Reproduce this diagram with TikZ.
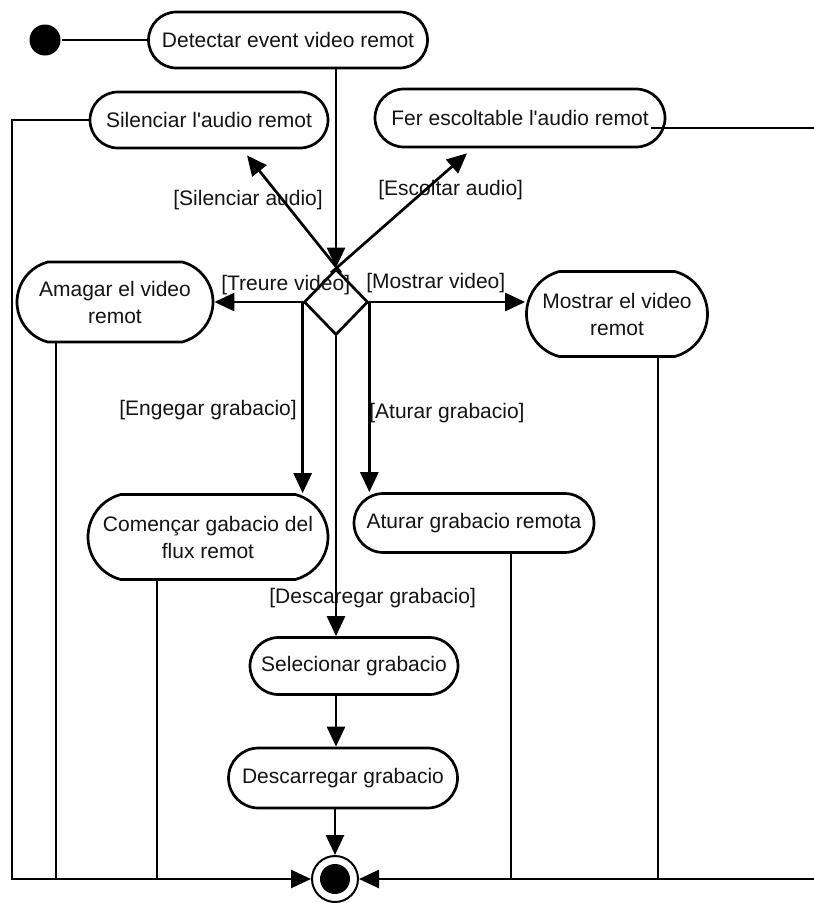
\documentclass[tikz,border=0pt]{standalone}
\usepackage{fontspec}
\setmainfont{Liberation Sans}
\usetikzlibrary{arrows.meta,shapes.geometric,shapes.misc,calc}

\begin{document}
\begin{tikzpicture}[x=1pt,y=-1pt,line width=2.7pt,
  act/.style={draw, rounded rectangle, rounded rectangle arc length=180,
    align=center, inner sep=0pt,
    font=\fontsize{21}{27}\selectfont, text=black!92},
  act2/.style={act, rounded rectangle arc length=150},
  guard/.style={inner sep=0pt, font=\fontsize{21}{25}\selectfont, text=black!92},
  flow/.style={-{Triangle[length=20pt,width=18pt]}},
  joinpt/.style={coordinate}
]
\useasboundingbox (0,0) rectangle (814,903);
\fill[white] (0,0) rectangle (814,903);

% initial node and actions
\node[circle, fill=black, minimum size=31pt, inner sep=0pt] (start) at (45,40) {};
\node[act, minimum width=279pt, minimum height=56pt] (det) at (288,40) {Detectar event video remot};
\node[act, minimum width=238pt, minimum height=56pt] (sil) at (209,120) {Silenciar l\textquotesingle audio remot};
\node[act, minimum width=290pt, minimum height=58pt] (fer) at (520,118) {Fer escoltable l\textquotesingle audio remot};
\node[diamond, draw, minimum width=64pt, minimum height=66pt, inner sep=0pt] (d) at (336,302) {};
\node[act2, minimum width=196pt, minimum height=80pt] (amag) at (115,302) {Amagar el video\\remot};
\node[act2, minimum width=181pt, minimum height=85pt] (most) at (617,314) {Mostrar el video\\remot};
\node[act2, minimum width=240pt, minimum height=85pt] (com) at (208,537) {Començar gabacio del\\flux remot};
\node[act, minimum width=240pt, minimum height=59pt] (atu) at (474,523) {Aturar grabacio remota};
\node[act, minimum width=208pt, minimum height=57pt] (sel) at (354,666) {Selecionar grabacio};
\node[act, minimum width=229pt, minimum height=60pt] (desc) at (343,778) {Descarregar grabacio};

% final node
\node[circle, draw, line width=2pt, minimum size=46pt, inner sep=0pt] (fin) at (335,879) {};
\fill (fin.center) circle (15pt);

% guard labels
\node[guard, anchor=west] (gsil) at (172,200) {[Silenciar audio]};
\node[guard, anchor=west] (gesc) at (377,190) {[Escoltar audio]};
\node[guard, anchor=west] (gtre) at (220,285) {[Treure video]};
\node[guard, anchor=west] (gmos) at (365,283) {[Mostrar video]};
\node[guard, anchor=west] (geng) at (118,410) {[Engegar grabacio]};
\node[guard, anchor=west] (gatu) at (368,413) {[Aturar grabacio]};
\node[guard, anchor=west] (gdes) at (268,598) {[Descaregar grabacio]};

% junction points on the bottom line
\node[joinpt] (bl) at (12,879) {};
\node[joinpt] (br) at (820,879) {};
\node[joinpt] (j1) at (56,879) {};
\node[joinpt] (j2) at (157,879) {};
\node[joinpt] (j3) at (511,879) {};
\node[joinpt] (j4) at (658,879) {};

% control flow
\draw (start) -- (det);
\draw[flow] (det.south -| d.north) -- (d.north);
\draw[flow] ($(d.north)!0.15!(d.east)$) -- ($(sil.south)+(38,6)$);
\draw[flow] ($(d.north)!0.15!(d.west)$) -- ($(fer.south)+(-53,5)$);
\draw[flow] (d.west) -- (amag.east |- d.west);
\draw[flow] (d.east) -- (most.west |- d.east);
\draw[flow] (d.west) -- (d.west |- com.north);
\draw[flow] (d.east) -- (d.east |- atu.north);
\draw[flow] (d.south) -- (d.south |- sel.north);
\draw[flow] (sel.south -| d.south) -- (desc.north -| d.south);
\draw[flow] (desc.south -| fin.north) -- (fin.north);

% merge into the final node
\draw[flow] (sil.west) -| (bl) -- (fin.west);
\draw[flow] ($(fer.east)+(-15,10)$) -| (br) -- (fin.east);
\draw (amag.south -| j1) -- (j1);
\draw (com.south -| j2) -- (j2);
\draw (atu.south -| j3) -- (j3);
\draw (most.south -| j4) -- (j4);
\end{tikzpicture}
\end{document}
